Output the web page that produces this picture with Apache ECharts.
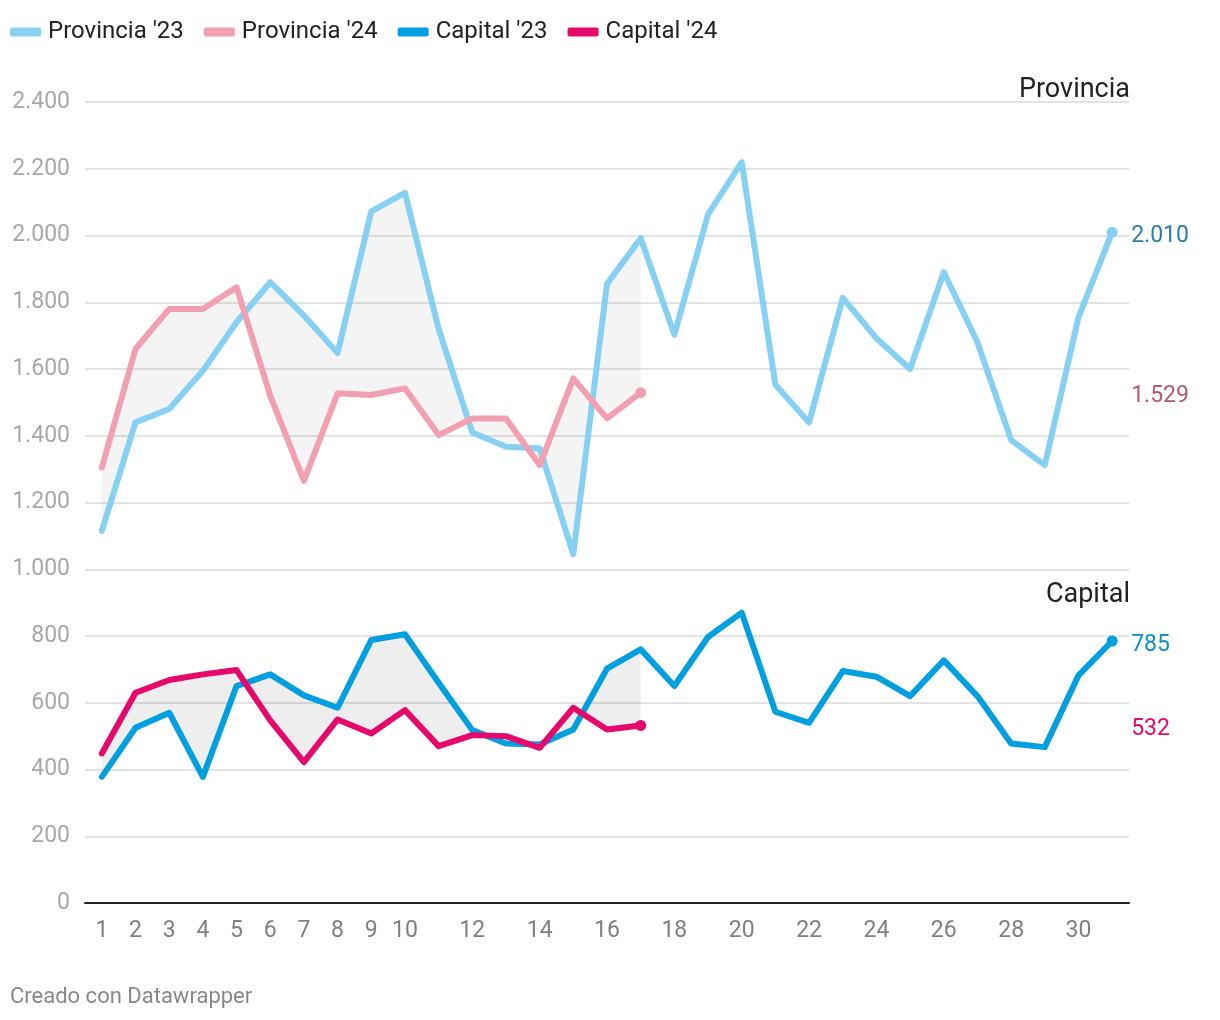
<!DOCTYPE html>
<html>
<head>
<meta charset="utf-8">
<script src="https://cdn.jsdelivr.net/npm/echarts@6/dist/echarts.min.js"></script>
<style>
html,body{margin:0;padding:0;background:#fff;}
#chart{width:1220px;height:1020px;}
</style>
</head>
<body>
<div id="chart"></div>
<script>
const days = ['1','2','3','4','5','6','7','8','9','10','11','12','13','14','15','16','17','18','19','20','21','22','23','24','25','26','27','28','29','30','31'];
const provincia23 = [1115,1440,1480,1595,1740,1860,1760,1648,2072,2128,1720,1410,1367,1362,1045,1855,1992,1703,2063,2220,1553,1440,1813,1692,1600,1890,1680,1387,1312,1755,2010];
const provincia24 = [1305,1660,1780,1780,1845,1520,1265,1527,1522,1542,1402,1452,1452,1312,1572,1452,1529];
const capital23 = [378,525,570,378,650,685,622,585,788,805,660,518,478,475,520,702,760,650,797,870,573,540,695,678,620,727,620,478,467,682,785];
const capital24 = [448,630,668,685,698,547,422,550,508,578,470,503,500,465,585,520,532];
const yTicks = [0,200,400,600,800,1000,1200,1400,1600,1800,2000,2200,2400];

const colors = {p23:'#86d1f3', p24:'#f2a0b1', c23:'#00a0e0', c24:'#e6086a'};
const FONT = 'Roboto, "Noto Sans", sans-serif';
function fmt(v){ return String(v).replace(/\B(?=(\d{3})+(?!\d))/g,'.'); }

const endLabels = [
  {v: provincia23[provincia23.length-1], color:'#2a7fa6'},
  {v: provincia24[provincia24.length-1], color:'#b5596f'},
  {v: capital23[capital23.length-1], color:'#0a8fcf'},
  {v: capital24[capital24.length-1], color:'#e6086a'}
];

function lineSeries(name, data, color){
  const last = data.length-1;
  return {
    name, type:'line', data, z:3,
    symbol:'circle', showAllSymbol:true,
    symbolSize:(val, p)=> p.dataIndex===last ? 11 : 0,
    lineStyle:{color, width:6, cap:'round', join:'round'},
    itemStyle:{color},
    emphasis:{disabled:true},
    animation:false
  };
}
function bandSeries(a, b, fill){
  const n = Math.min(a.length, b.length);
  return {
    type:'custom', coordinateSystem:'cartesian2d', z:1, silent:true, animation:false,
    data:[[0,0]],
    renderItem:(params, api)=>{
      const pts = [];
      for(let i=0;i<n;i++) pts.push(api.coord([i, a[i]]));
      for(let i=n-1;i>=0;i--) pts.push(api.coord([i, b[i]]));
      return {type:'polygon', shape:{points:pts}, style:{fill}};
    }
  };
}

const chart = echarts.init(document.getElementById('chart'), null, {renderer:'canvas'});
chart.setOption({
  animation:false,
  backgroundColor:'#fff',
  textStyle:{fontFamily:FONT},
  title:[
    {text:'Provincia', right:85, top:72, textStyle:{fontFamily:FONT, fontSize:27, fontWeight:'normal', color:'#222'}},
    {text:'Capital', right:85, top:577, textStyle:{fontFamily:FONT, fontSize:27, fontWeight:'normal', color:'#222'}}
  ],
  legend:{
    left:5, top:15, itemWidth:31, itemHeight:9, itemGap:20, icon:'roundRect',
    data:["Provincia '23","Provincia '24","Capital '23","Capital '24"],
    textStyle:{fontFamily:FONT, fontSize:24, color:'#222', padding:[0,0,0,2]}
  },
  grid:{left:85, right:91, top:102, bottom:117, containLabel:false},
  xAxis:{
    type:'category', data:days, boundaryGap:true,
    axisLine:{show:true, lineStyle:{color:'#222', width:2}},
    axisTick:{show:false},
    axisLabel:{
      interval:(i)=> i<10 || (i+1)%2===0,
      fontFamily:FONT, fontSize:23, color:'#808080', margin:17
    },
    splitLine:{show:false}
  },
  yAxis:{
    type:'value', min:0, max:2400, interval:200,
    axisLine:{show:false}, axisTick:{show:false},
    axisLabel:{formatter:(v)=>fmt(v), fontFamily:FONT, fontSize:23, color:'#a8a8a8', margin:15},
    splitLine:{lineStyle:{color:'#e3e3e3', width:2}}
  },
  series:[
    bandSeries(provincia23, provincia24, 'rgba(0,0,0,0.045)'),
    bandSeries(capital23, capital24, 'rgba(0,0,0,0.065)'),
    lineSeries("Provincia '23", provincia23, colors.p23),
    lineSeries("Provincia '24", provincia24, colors.p24),
    lineSeries("Capital '23", capital23, colors.c23),
    lineSeries("Capital '24", capital24, colors.c24),
    {
      type:'custom', coordinateSystem:'cartesian2d', z:4, silent:true, clip:false, animation:false,
      data:endLabels.map(l=>[days.length-1, l.v]),
      renderItem:(params, api)=>{
        const l = endLabels[params.dataIndex];
        const pt = api.coord([days.length-1, l.v]);
        return {type:'text', x:pt[0]+19, y:pt[1]+4,
          style:{text:fmt(l.v), fill:l.color, font:'23px '+FONT, textAlign:'left', textVerticalAlign:'middle'}};
      }
    }
  ],
  graphic:[
    {type:'text', left:10, top:986, style:{text:'Creado con Datawrapper', fill:'#888', font:'22px '+FONT}}
  ]
});
</script>
</body>
</html>
